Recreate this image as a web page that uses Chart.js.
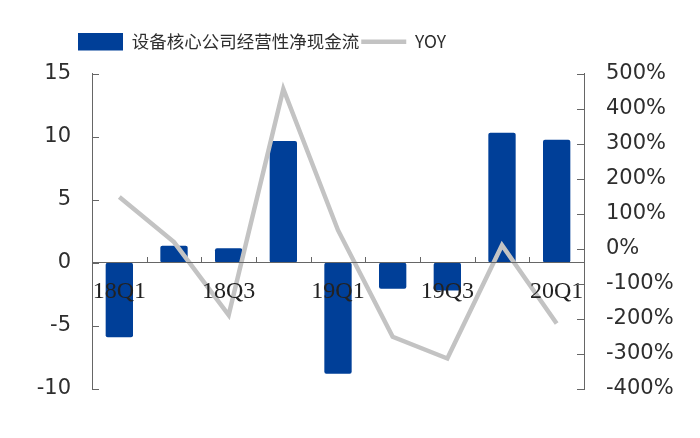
<!DOCTYPE html>
<html>
<head>
<meta charset="utf-8">
<script src="https://cdn.jsdelivr.net/npm/chart.js@4.4.0/dist/chart.umd.min.js"></script>
<style>
  html, body { margin: 0; padding: 0; background: #fff; }
  #wrap { width: 700px; height: 438px; }
</style>
</head>
<body>
<div id="wrap"><canvas id="chart"></canvas></div>
<script>
/* ---- Données ---- */
const categories = ['18Q1', '18Q2', '18Q3', '18Q4', '19Q1', '19Q2', '19Q3', '19Q4', '20Q1'];
const cashFlow   = [-5.9, 1.35, 1.15, 9.65, -8.8, -2.05, -2.2, 10.3, 9.75];
const yoy        = [148, 19, -189, 456, 53, -251, -313, 10, -213];
const leftTicks  = [-10, -5, 0, 5, 10, 15];
const rightTicks = [-400, -300, -200, -100, 0, 100, 200, 300, 400, 500];

const AXIS_COLOR = '#666666';
const TEXT_COLOR = '#2e2e2e';
const yFont = { family: 'DejaVu Sans', size: 21 };
const xFont = { family: 'Liberation Serif', size: 24 };

/* ---- Petits traits de graduation vers l'intérieur ---- */
const innerTicks = {
  id: 'innerTicks',
  afterDraw(chart) {
    const { x, y, y1 } = chart.scales;
    const ctx = chart.ctx;
    ctx.save();
    ctx.strokeStyle = AXIS_COLOR;
    ctx.lineWidth = 1;
    ctx.beginPath();
    y.ticks.forEach(t => {
      const py = Math.round(y.getPixelForValue(t.value)) + 0.5;
      ctx.moveTo(y.right, py);
      ctx.lineTo(y.right + 7, py);
    });
    y1.ticks.forEach(t => {
      const py = Math.round(y1.getPixelForValue(t.value)) + 0.5;
      ctx.moveTo(y1.left, py);
      ctx.lineTo(y1.left - 7, py);
    });
    const zy = Math.round(y.getPixelForValue(0));
    for (let i = 1; i < categories.length; i++) {
      const px = Math.round(x.getPixelForValue(i - 0.5)) + 0.5;
      ctx.moveTo(px, zy);
      ctx.lineTo(px, zy - 6);
    }
    ctx.stroke();
    ctx.restore();
  }
};

/* ---- Espace sous la légende + décalage horizontal de la légende ---- */
const legendLayout = {
  id: 'legendLayout',
  beforeInit(chart) {
    Chart.layouts.addBox(chart, {
      position: 'top',
      weight: 0,
      fullSize: true,
      options: {},
      left: 0, top: 0, right: 0, bottom: 0, width: 0, height: 0,
      update(maxWidth) { this.width = maxWidth; this.height = 13; },
      isHorizontal() { return true; },
      getPadding() { return { left: 0, top: 0, right: 0, bottom: 0 }; },
      draw() {},
    });
  },
  afterLayout(chart) {
    if (chart.legend) chart.legend.left = 76;
  },
};

new Chart(document.getElementById('chart'), {
  data: {
    labels: categories,
    datasets: [
      {
        type: 'bar',
        label: '设备核心公司经营性净现金流',
        data: cashFlow,
        yAxisID: 'y',
        backgroundColor: '#003f98',
        borderWidth: 0,
        borderRadius: 2,
        borderSkipped: false,
        barPercentage: 0.5,
        categoryPercentage: 1,
        pointStyle: 'rect',
        order: 1,
      },
      {
        type: 'line',
        label: 'YOY',
        data: yoy,
        yAxisID: 'y1',
        borderColor: '#c3c3c3',
        backgroundColor: '#c3c3c3',
        borderWidth: 4.5,
        pointRadius: 0,
        tension: 0,
        pointStyle: 'line',
        order: 0,
      },
    ],
  },
  options: {
    responsive: true,
    maintainAspectRatio: false,
    animation: false,
    layout: { padding: { left: 0, right: 0, top: 31, bottom: 49 } },
    plugins: {
      tooltip: { enabled: false },
      legend: {
        position: 'top',
        align: 'start',
        labels: {
          usePointStyle: true,
          pointStyleWidth: 45,
          boxHeight: 18,
          padding: 2,
          color: TEXT_COLOR,
          font: { family: 'Noto Sans CJK SC', size: 17.5 },
          sort: (a, b) => a.datasetIndex - b.datasetIndex,
        },
      },
    },
    scales: {
      x: {
        position: { y: 0 },
        grid: { display: false, drawTicks: false },
        border: { color: AXIS_COLOR, width: 1, z: 1 },
        ticks: {
          z: 1,
          autoSkip: false,
          maxRotation: 0,
          padding: 15,
          color: '#222',
          font: xFont,
          callback: (v, i) => (i % 2 === 0 ? categories[i] : ''),
        },
      },
      y: {
        position: 'left',
        min: -10,
        max: 15,
        afterBuildTicks: s => { s.ticks = leftTicks.map(v => ({ value: v })); },
        afterFit: s => { s.width = 92; },
        grid: { display: false, drawTicks: false },
        border: { color: AXIS_COLOR, width: 1 },
        ticks: { padding: 21, color: TEXT_COLOR, font: yFont },
      },
      y1: {
        position: 'right',
        min: -400,
        max: 500,
        afterBuildTicks: s => { s.ticks = rightTicks.map(v => ({ value: v })); },
        afterFit: s => { s.width = 116; },
        grid: { display: false, drawTicks: false },
        border: { color: AXIS_COLOR, width: 1 },
        ticks: { padding: 22, color: TEXT_COLOR, font: yFont, callback: v => v + '%' },
      },
    },
  },
  plugins: [innerTicks, legendLayout],
});
</script>
</body>
</html>
